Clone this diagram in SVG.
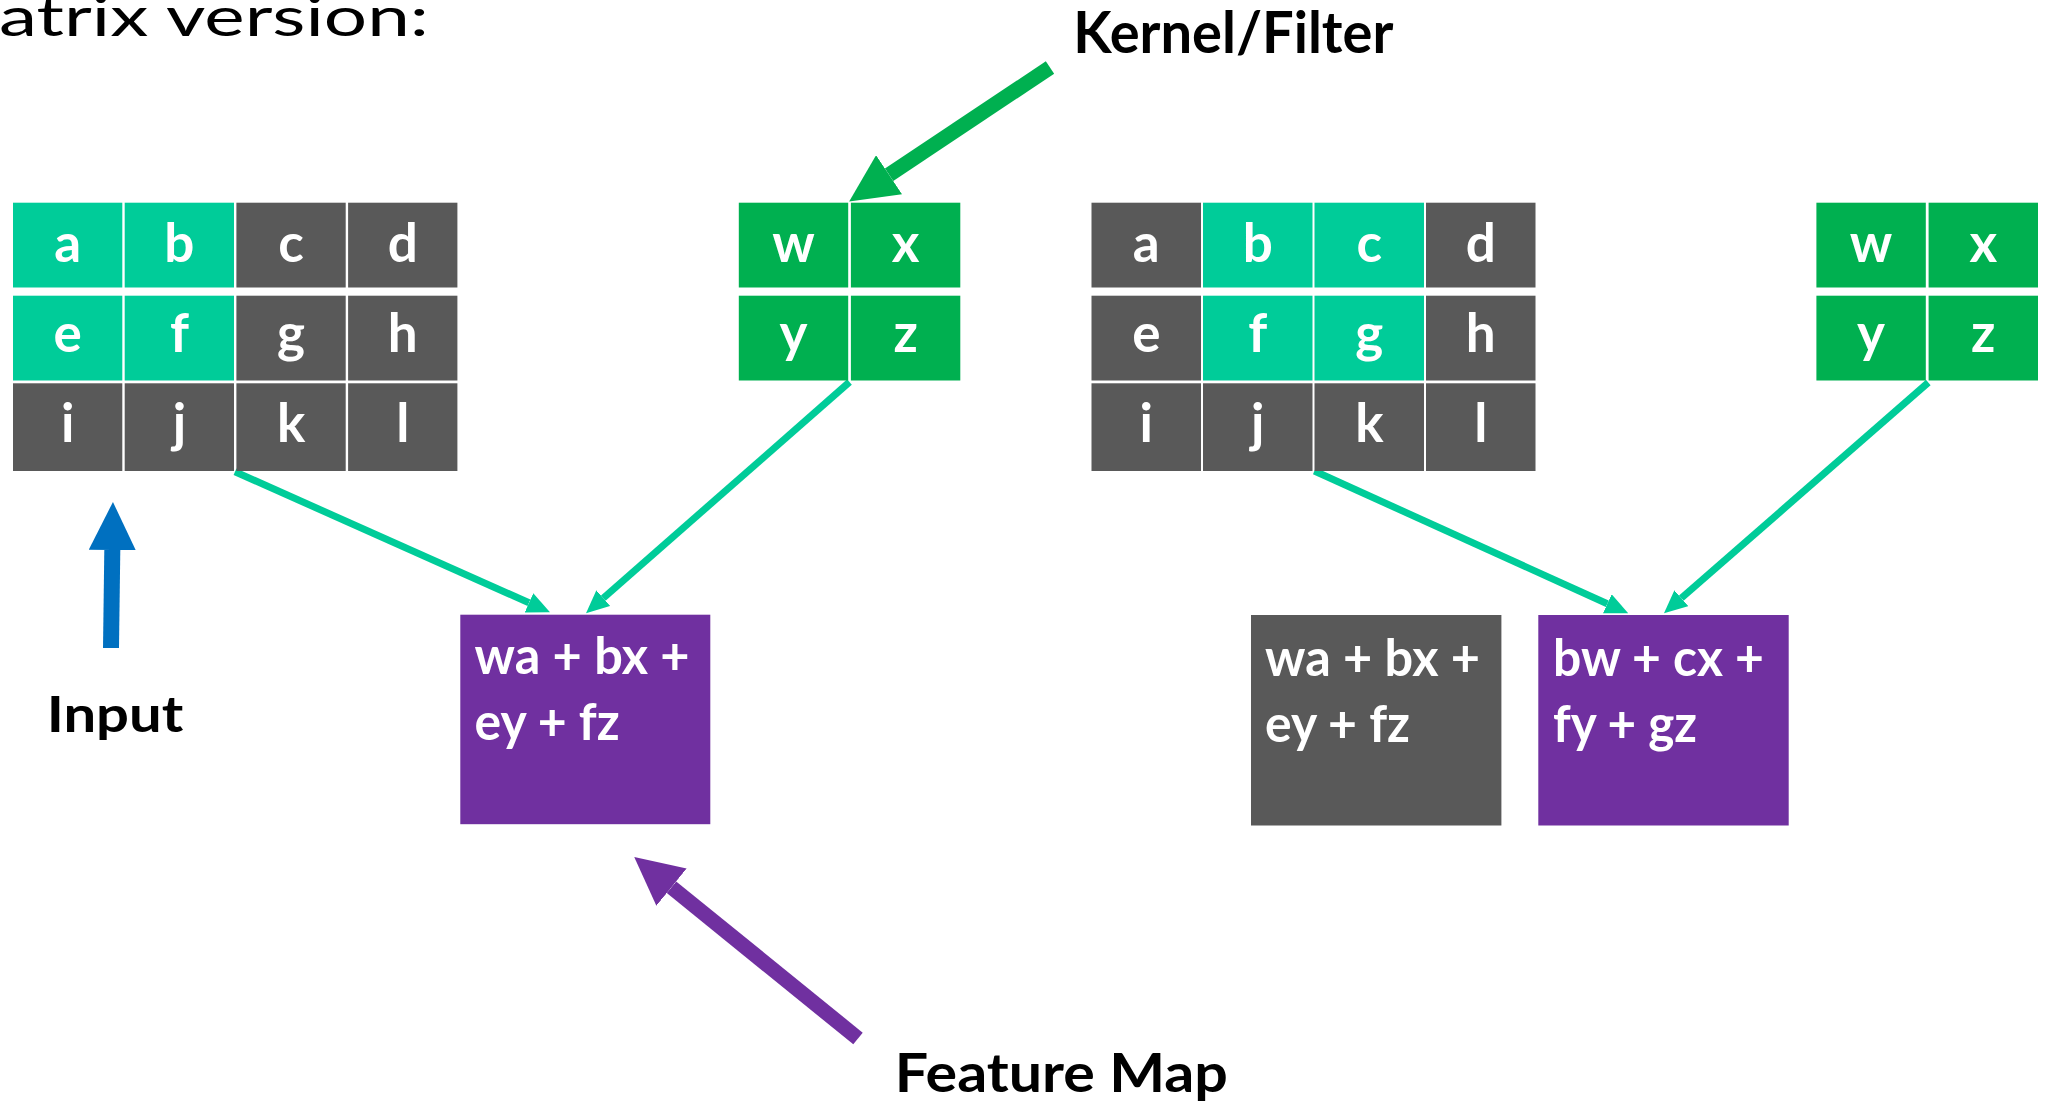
<svg xmlns="http://www.w3.org/2000/svg" width="2049" height="1106" viewBox="0 0 2049 1106">
<style>
.bg{fill:#FFFFFF}
.teal{fill:#00CC99}
.gray{fill:#595959}
.green{fill:#00B050}
.purple{fill:#7030A0}
.cell{font-family:Lato,"Liberation Sans",sans-serif;font-weight:bold;font-size:53px;fill:#FFFFFF;text-anchor:middle}
.fm{font-family:Lato,"Liberation Sans",sans-serif;font-weight:bold;font-size:52px;fill:#FFFFFF}
.lbl{font-family:Lato,"Liberation Sans",sans-serif;font-weight:bold;fill:#000000}
.title{font-family:Lato,"Liberation Sans",sans-serif;font-weight:normal;font-size:54px;fill:#000000}
.conn{stroke:#00CC99;stroke-width:7;fill:none}
</style>
<defs>
<marker id="tealHead" markerUnits="userSpaceOnUse" markerWidth="23" markerHeight="21" viewBox="0 0 23 21" refX="0" refY="10.5" orient="auto">
<path d="M0,0 L23,10.5 L0,21 Z" fill="#00CC99"/>
</marker>
<marker id="greenHead" markerUnits="userSpaceOnUse" markerWidth="48" markerHeight="47" viewBox="0 0 48 47" refX="0" refY="23.5" orient="auto">
<path d="M0,0 L48,23.5 L0,47 Z" fill="#00B050"/>
</marker>
<marker id="blueHead" markerUnits="userSpaceOnUse" markerWidth="48" markerHeight="47" viewBox="0 0 48 47" refX="0" refY="23.5" orient="auto">
<path d="M0,0 L48,23.5 L0,47 Z" fill="#0070C0"/>
</marker>
<marker id="purpleHead" markerUnits="userSpaceOnUse" markerWidth="48" markerHeight="48" viewBox="0 0 48 48" refX="0" refY="24" orient="auto">
<path d="M0,0 L48,24 L0,48 Z" fill="#7030A0"/>
</marker>
</defs>
<rect class="bg" x="0" y="0" width="2049" height="1106"/>

<g id="connectors">
<line class="conn" x1="235" y1="471.7" x2="529" y2="602.8" marker-end="url(#tealHead)"/>
<line class="conn" x1="849.5" y1="382" x2="603.3" y2="598.1" marker-end="url(#tealHead)"/>
<line class="conn" x1="1314.4" y1="471" x2="1607.3" y2="603.8" marker-end="url(#tealHead)"/>
<line class="conn" x1="1928.3" y1="382.5" x2="1681.3" y2="598.2" marker-end="url(#tealHead)"/>
<line x1="1050" y1="67.5" x2="889.1" y2="174.8" stroke="#00B050" stroke-width="15" marker-end="url(#greenHead)"/>
<line x1="111" y1="648" x2="112.3" y2="550" stroke="#0070C0" stroke-width="16" marker-end="url(#blueHead)"/>
<line x1="858" y1="1038.5" x2="671.5" y2="887.2" stroke="#7030A0" stroke-width="15" marker-end="url(#purpleHead)"/>
</g>

<g id="title">
<text class="title" x="-1" y="36" textLength="430" lengthAdjust="spacingAndGlyphs">atrix version:</text>
</g>

<g id="input-grid-1">
<rect class="teal" x="13" y="202.7" width="109.3" height="84.8"/>
<rect class="teal" x="124.7" y="202.7" width="109.3" height="84.8"/>
<rect class="gray" x="236.4" y="202.7" width="109.3" height="84.8"/>
<rect class="gray" x="348.1" y="202.7" width="109.3" height="84.8"/>
<rect class="teal" x="13" y="295.7" width="109.3" height="84.8"/>
<rect class="teal" x="124.7" y="295.7" width="109.3" height="84.8"/>
<rect class="gray" x="236.4" y="295.7" width="109.3" height="84.8"/>
<rect class="gray" x="348.1" y="295.7" width="109.3" height="84.8"/>
<rect class="gray" x="13" y="383.3" width="109.3" height="87.7"/>
<rect class="gray" x="124.7" y="383.3" width="109.3" height="87.7"/>
<rect class="gray" x="236.4" y="383.3" width="109.3" height="87.7"/>
<rect class="gray" x="348.1" y="383.3" width="109.3" height="87.7"/>
<text class="cell" x="67.7" y="261.7">a</text>
<text class="cell" x="179.4" y="261.7">b</text>
<text class="cell" x="291.1" y="261.7">c</text>
<text class="cell" x="402.8" y="261.7">d</text>
<text class="cell" x="67.7" y="351.7">e</text>
<text class="cell" x="179.4" y="351.7">f</text>
<text class="cell" x="291.1" y="351.7">g</text>
<text class="cell" x="402.8" y="351.7">h</text>
<text class="cell" x="67.7" y="442">i</text>
<text class="cell" x="179.4" y="442">j</text>
<text class="cell" x="291.1" y="442">k</text>
<text class="cell" x="402.8" y="442">l</text>
</g>

<g id="kernel-1">
<rect class="green" x="738.8" y="202.7" width="109.4" height="84.8"/>
<rect class="green" x="850.9" y="202.7" width="109.4" height="84.8"/>
<rect class="green" x="738.8" y="295.7" width="109.4" height="84.8"/>
<rect class="green" x="850.9" y="295.7" width="109.4" height="84.8"/>
<text class="cell" x="793.5" y="261.7">w</text>
<text class="cell" x="905.6" y="261.7">x</text>
<text class="cell" x="793.5" y="351.7">y</text>
<text class="cell" x="905.6" y="351.7">z</text>
</g>

<g id="input-grid-2">
<rect class="gray" x="1091.5" y="202.7" width="109.5" height="84.8"/>
<rect class="teal" x="1203" y="202.7" width="109.5" height="84.8"/>
<rect class="teal" x="1314.5" y="202.7" width="109.5" height="84.8"/>
<rect class="gray" x="1426" y="202.7" width="109.5" height="84.8"/>
<rect class="gray" x="1091.5" y="295.7" width="109.5" height="84.8"/>
<rect class="teal" x="1203" y="295.7" width="109.5" height="84.8"/>
<rect class="teal" x="1314.5" y="295.7" width="109.5" height="84.8"/>
<rect class="gray" x="1426" y="295.7" width="109.5" height="84.8"/>
<rect class="gray" x="1091.5" y="383.3" width="109.5" height="87.7"/>
<rect class="gray" x="1203" y="383.3" width="109.5" height="87.7"/>
<rect class="gray" x="1314.5" y="383.3" width="109.5" height="87.7"/>
<rect class="gray" x="1426" y="383.3" width="109.5" height="87.7"/>
<text class="cell" x="1146.3" y="261.7">a</text>
<text class="cell" x="1257.8" y="261.7">b</text>
<text class="cell" x="1369.3" y="261.7">c</text>
<text class="cell" x="1480.8" y="261.7">d</text>
<text class="cell" x="1146.3" y="351.7">e</text>
<text class="cell" x="1257.8" y="351.7">f</text>
<text class="cell" x="1369.3" y="351.7">g</text>
<text class="cell" x="1480.8" y="351.7">h</text>
<text class="cell" x="1146.3" y="442">i</text>
<text class="cell" x="1257.8" y="442">j</text>
<text class="cell" x="1369.3" y="442">k</text>
<text class="cell" x="1480.8" y="442">l</text>
</g>

<g id="kernel-2">
<rect class="green" x="1816.4" y="202.7" width="109.4" height="84.8"/>
<rect class="green" x="1928.6" y="202.7" width="109.4" height="84.8"/>
<rect class="green" x="1816.4" y="295.7" width="109.4" height="84.8"/>
<rect class="green" x="1928.6" y="295.7" width="109.4" height="84.8"/>
<text class="cell" x="1871.1" y="261.7">w</text>
<text class="cell" x="1983.3" y="261.7">x</text>
<text class="cell" x="1871.1" y="351.7">y</text>
<text class="cell" x="1983.3" y="351.7">z</text>
</g>

<g id="feature-1">
<rect class="purple" x="460.3" y="614.7" width="250" height="209.5"/>
<text class="fm" x="474.6" y="674.3" textLength="215" lengthAdjust="spacingAndGlyphs">wa + bx +</text>
<text class="fm" x="474.6" y="740" textLength="145" lengthAdjust="spacingAndGlyphs">ey + fz</text>
</g>

<g id="feature-2a">
<rect class="gray" x="1251" y="615" width="250.4" height="210.5"/>
<text class="fm" x="1265" y="675.5" textLength="215" lengthAdjust="spacingAndGlyphs">wa + bx +</text>
<text class="fm" x="1265" y="741.5" textLength="145" lengthAdjust="spacingAndGlyphs">ey + fz</text>
</g>

<g id="feature-2b">
<rect class="purple" x="1538.3" y="615" width="250.4" height="210.5"/>
<text class="fm" x="1553" y="675.5" textLength="211" lengthAdjust="spacingAndGlyphs">bw + cx +</text>
<text class="fm" x="1553" y="741.5" textLength="144" lengthAdjust="spacingAndGlyphs">fy + gz</text>
</g>

<g id="label-kernel">
<text class="lbl" x="1073.3" y="53.3" font-size="57" textLength="320" lengthAdjust="spacingAndGlyphs">Kernel/Filter</text>
</g>
<g id="label-input">
<text class="lbl" x="46.7" y="731.7" font-size="50" textLength="136.6" lengthAdjust="spacingAndGlyphs">Input</text>
</g>
<g id="label-feature-map">
<text class="lbl" x="894.8" y="1091.7" font-size="54" textLength="333" lengthAdjust="spacingAndGlyphs">Feature Map</text>
</g>
</svg>
